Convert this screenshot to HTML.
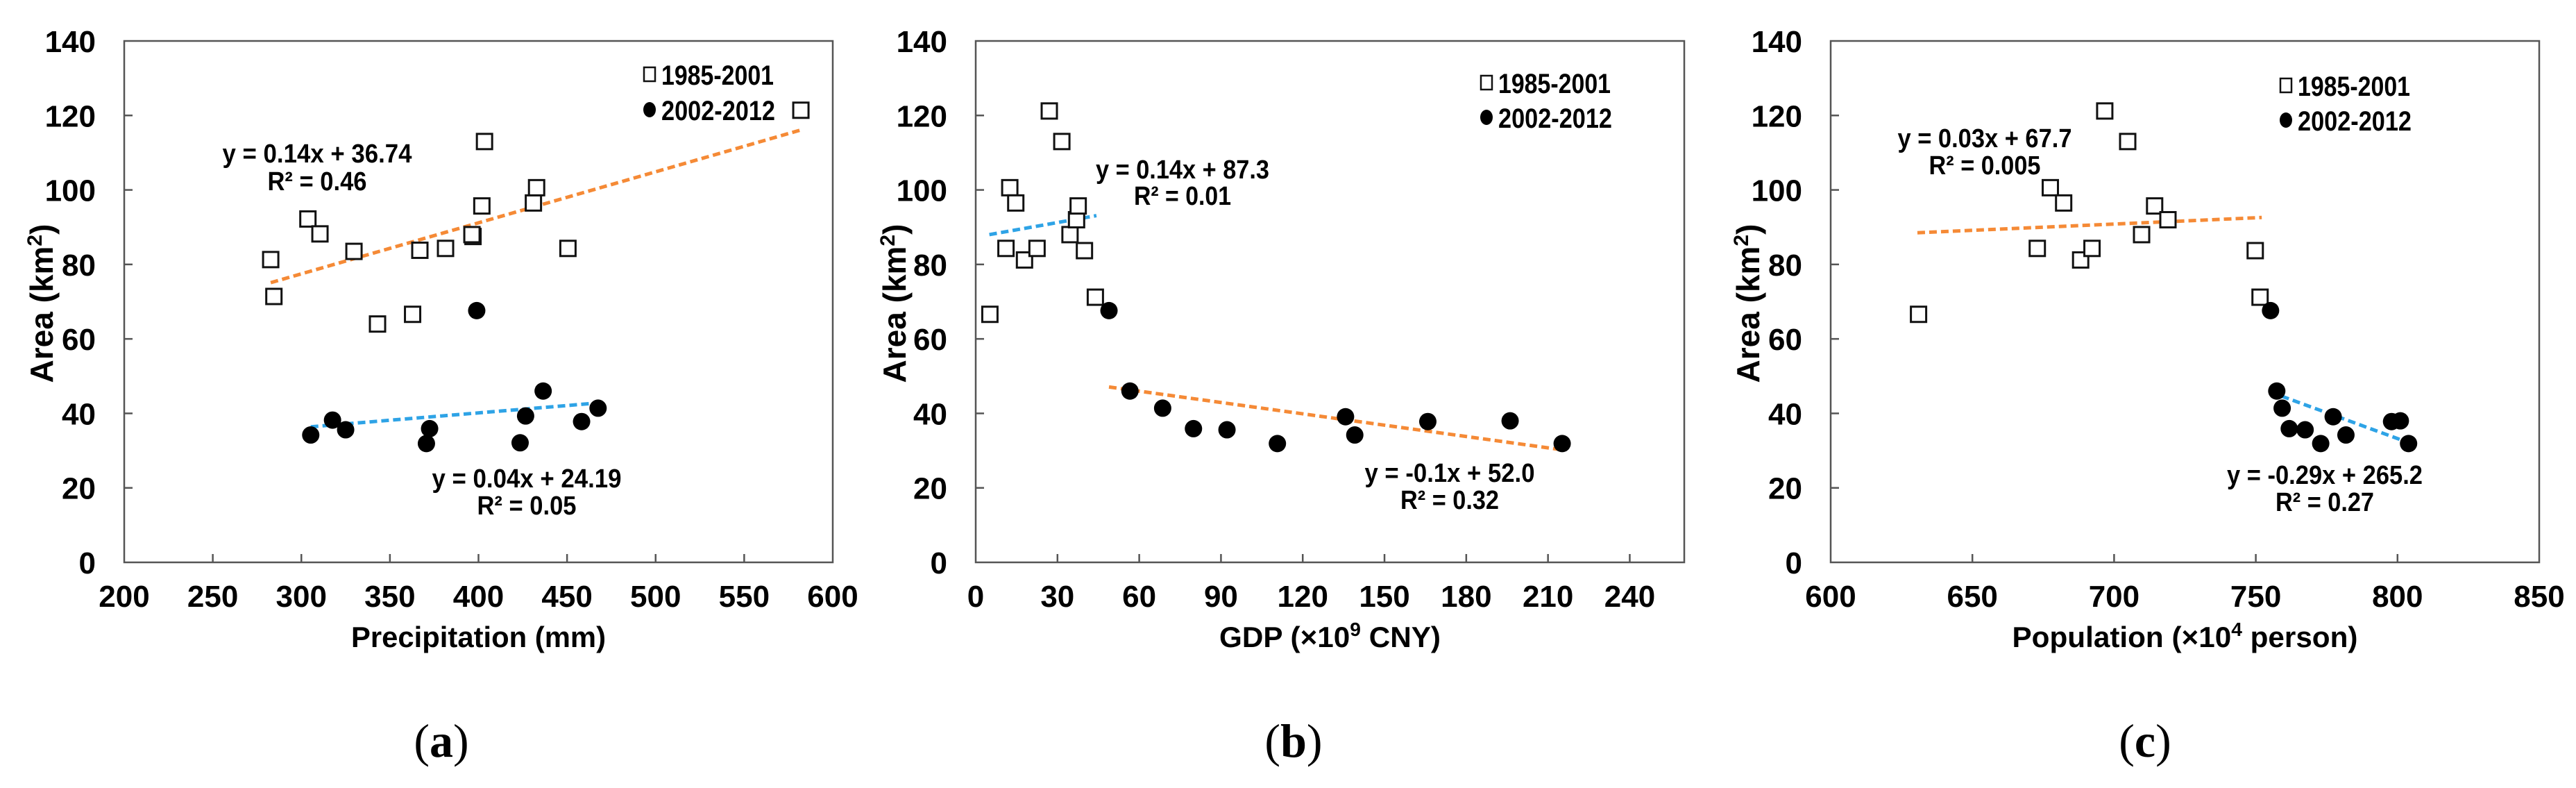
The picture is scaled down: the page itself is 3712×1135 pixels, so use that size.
<!DOCTYPE html>
<html><head><meta charset="utf-8">
<style>
html,body{margin:0;padding:0;background:#fff;}
svg{display:block;}
text{font-family:"Liberation Sans",Arial,sans-serif;}
</style></head>
<body>
<svg id="fig" width="3712" height="1135" viewBox="0 0 3712 1135" xmlns="http://www.w3.org/2000/svg"></svg>
<script>
// ---- Data ----
const yTicks = [0,20,40,60,80,100,120,140];

const aTicks = [200,250,300,350,400,450,500,550,600];
const aOldX = [282.7,284.5,303.7,310.5,329.7,343,362.8,366.9,381.4,396.9,396.3,401.9,403.4,431,432.8,450.5,582];
const aOldY = [81.3,71.4,92.2,88.2,83.5,64,66.6,83.8,84.3,87.5,88.0,95.7,113,96.5,100.6,84.3,121.4];
const aNewX = [305.3,317.6,325,370.6,372.4,399,423.5,426.6,436.5,458.2,467.5];
const aNewY = [34.2,38.2,35.6,31.9,35.9,67.6,32.1,39.3,46,37.8,41.4];
const aTrendOldX = [282.7,582]; const aTrendOldY = [75.1,116.1];
const aTrendNewX = [305.3,467.5]; const aTrendNewY = [36.4,42.8];

const bTicks = [0,30,60,90,120,150,180,210,240];
const bOldX = [5.2,11.1,12.5,14.7,17.9,22.5,27,31.6,34.6,37,37.6,39.9,43.9];
const bOldY = [66.6,84.3,100.6,96.5,81.2,84.3,121.2,113,88,92,95.7,83.7,71.2];
const bNewX = [48.9,56.6,68.6,79.9,92.2,110.7,135.7,139.1,165.9,196.1,215.2];
const bNewY = [67.6,46,41.4,35.9,35.6,31.9,39.1,34.2,37.8,38,31.9];
const bTrendOldX = [5,44.3]; const bTrendOldY = [88.0,93.1];
const bTrendNewX = [48.9,215.4]; const bTrendNewY = [47.1,30.2];

const cTicks = [600,650,700,750,800,850];
const cOldX = [631,672.9,677.5,682.2,688.2,692.2,696.7,704.8,709.7,714.3,719,749.8,751.5];
const cOldY = [66.6,84.3,100.6,96.5,81.2,84.3,121.2,113,88,95.7,92,83.7,71.2];
const cNewX = [755.2,757.4,759.3,761.8,767.4,772.9,777.3,781.8,797.9,801,803.9];
const cNewY = [67.6,46,41.4,35.9,35.6,31.9,39.1,34.2,37.8,38,31.9];
const cTrendOldX = [630.6,752.1]; const cTrendOldY = [88.5,92.6];
const cTrendNewX = [755.2,804.1]; const cTrendNewY = [45.7,32.1];

const NS = "http://www.w3.org/2000/svg";
const svg = document.getElementById('fig');
function mk(tag, attrs, parent){
  const e = document.createElementNS(NS, tag);
  for (const k in attrs) e.setAttribute(k, attrs[k]);
  (parent||svg).appendChild(e);
  return e;
}
const ORANGE = '#f58a36', BLUE = '#2ea3e6';

function panel(cfg){
  const g = mk('g', {});
  
  
  const L = cfg.left, R = cfg.left + 1021, T = 59, B = 810;
  const sx = v => L + (v - cfg.xmin) / (cfg.xmax - cfg.xmin) * (R - L);
  const sy = v => B - v / 140 * (B - T);
  const frame = mk('rect', {x:L, y:T, width:R-L, height:B-T, fill:'none', stroke:'#555', 'stroke-width':2.5}, g);
  
  
  yTicks.forEach(t => {
    const y = sy(t);
    if (t > 0 && t < 140) mk('line', {x1:L, x2:L+12, y1:y, y2:y, stroke:'#555', 'stroke-width':2.5}, g);
    const tx = mk('text', {x:L-41, y:y+16, 'text-anchor':'end', 'font-size':44, 'font-weight':'bold', fill:'#000'}, g);
    
    
    tx.textContent = t;
  });
  cfg.xticks.forEach(t => {
    const x = sx(t);
    if (x > L + 1 && x < R - 1) mk('line', {x1:x, x2:x, y1:B, y2:B-12, stroke:'#555', 'stroke-width':2.5}, g);
    const tx = mk('text', {x:x, y:874, 'text-anchor':'middle', 'font-size':44, 'font-weight':'bold', fill:'#000'}, g);
    
    
    tx.textContent = t;
  });
  // axis titles
  const xt = mk('text', {x:(L+R)/2, y:932, 'text-anchor':'middle', 'font-size':42, 'font-weight':'bold', fill:'#000', textLength:cfg.xTitleW, lengthAdjust:'spacingAndGlyphs'}, g);
  
  
  xt.innerHTML = cfg.xTitle;
  const yt = mk('text', {x:0, y:0, 'text-anchor':'middle', 'font-size':46, 'font-weight':'bold', fill:'#000', transform:`translate(${cfg.yTitleX+16},437) rotate(-90)`}, g);
  
  
  yt.innerHTML = 'Area (km<tspan dy="-16" font-size="30">2</tspan><tspan dy="16">)</tspan>';
  // trend lines
  [[cfg.tOX, cfg.tOY, cfg.oldColor, 'trendline-1985-2001'], [cfg.tNX, cfg.tNY, cfg.newColor, 'trendline-2002-2012']].forEach(([xs, ys, col, nm]) => {
    const ln = mk('line', {x1:sx(xs[0]), y1:sy(ys[0]), x2:sx(xs[1]), y2:sy(ys[1]), stroke:col, 'stroke-width':5, 'stroke-dasharray':'11 6'}, g);
    
    
  });
  // markers
  cfg.oX.forEach((v, i) => {
    const r = mk('rect', {x:sx(v)-11, y:sy(cfg.oY[i])-11, width:22, height:22, fill:'#fff', stroke:'#111', 'stroke-width':3}, g);
    
    
  });
  cfg.nX.forEach((v, i) => {
    const c = mk('circle', {cx:sx(v), cy:sy(cfg.nY[i]), r:12.5, fill:'#000'}, g);
    
    
  });
  // equations
  cfg.eqs.forEach(e => {
    const t1 = mk('text', {x:e.x, y:e.y1+13, 'text-anchor':'middle', 'font-size':38, 'font-weight':'bold', fill:'#000', textLength:e.w, lengthAdjust:'spacingAndGlyphs'}, g);
    
    
    t1.textContent = e.eq;
    const t2 = mk('text', {x:e.x, y:e.y2+13, 'text-anchor':'middle', 'font-size':38, 'font-weight':'bold', fill:'#000', textLength:e.w2, lengthAdjust:'spacingAndGlyphs'}, g);
    
    
    t2.textContent = e.r2;
  });
  // legend
  const lg = mk('g', {}, g);
  
  
  mk('rect', {x:cfg.legX-8, y:cfg.legY1-10, width:16, height:20, fill:'#fff', stroke:'#111', 'stroke-width':2.5}, lg);
  mk('ellipse', {cx:cfg.legX, cy:cfg.legY2, rx:9, ry:11, fill:'#000'}, lg);
  const l1 = mk('text', {x:cfg.legX+17, y:cfg.legY1+15, 'font-size':40, 'font-weight':'bold', fill:'#000', textLength:162, lengthAdjust:'spacingAndGlyphs'}, lg);
  
  
  l1.textContent = '1985-2001';
  const l2 = mk('text', {x:cfg.legX+17, y:cfg.legY2+15, 'font-size':40, 'font-weight':'bold', fill:'#000', textLength:164, lengthAdjust:'spacingAndGlyphs'}, lg);
  
  
  l2.textContent = '2002-2012';
  // panel letter
  const pl = mk('text', {x:cfg.letterX, y:1090, 'text-anchor':'middle', 'font-size':68, fill:'#000', style:'font-family:"Liberation Serif",serif'}, g);
  
  
  pl.innerHTML = '(<tspan font-weight="bold">' + cfg.letter + '</tspan>)';
}

panel({name:'panel-a-precipitation', left:179, xmin:200, xmax:600, xticks:aTicks,
  xTitle:'Precipitation (mm)', xTitleW:367, yTitleX:60,
  oX:aOldX, oY:aOldY, nX:aNewX, nY:aNewY,
  tOX:aTrendOldX, tOY:aTrendOldY, tNX:aTrendNewX, tNY:aTrendNewY, oldColor:ORANGE, newColor:BLUE,
  eqs:[{x:457, y1:221, y2:261, eq:'y = 0.14x + 36.74', r2:'R² = 0.46', w:273, w2:143},
       {x:759, y1:689, y2:728, eq:'y = 0.04x + 24.19', r2:'R² = 0.05', w:273, w2:143}],
  legX:936, legY1:107, legY2:158, letter:'a', letterX:636});

panel({name:'panel-b-gdp', left:1406, xmin:0, xmax:260, xticks:bTicks,
  xTitle:'GDP (×10<tspan dy="-16" font-size="28">9</tspan><tspan dy="16"> CNY)</tspan>', xTitleW:319, yTitleX:1289,
  oX:bOldX, oY:bOldY, nX:bNewX, nY:bNewY,
  tOX:bTrendOldX, tOY:bTrendOldY, tNX:bTrendNewX, tNY:bTrendNewY, oldColor:BLUE, newColor:ORANGE,
  eqs:[{x:1704, y1:244, y2:282, eq:'y = 0.14x + 87.3', r2:'R² = 0.01', w:250, w2:140},
       {x:2089, y1:681, y2:720, eq:'y = -0.1x + 52.0', r2:'R² = 0.32', w:245, w2:142}],
  legX:2142, legY1:119, legY2:169, letter:'b', letterX:1864});

panel({name:'panel-c-population', left:2638, xmin:600, xmax:850, xticks:cTicks,
  xTitle:'Population (×10<tspan dy="-16" font-size="28">4</tspan><tspan dy="16"> person)</tspan>', xTitleW:498, yTitleX:2519,
  oX:cOldX, oY:cOldY, nX:cNewX, nY:cNewY,
  tOX:cTrendOldX, tOY:cTrendOldY, tNX:cTrendNewX, tNY:cTrendNewY, oldColor:ORANGE, newColor:BLUE,
  eqs:[{x:2860, y1:199, y2:238, eq:'y = 0.03x + 67.7', r2:'R² = 0.005', w:251, w2:161},
       {x:3350, y1:684, y2:723, eq:'y = -0.29x + 265.2', r2:'R² = 0.27', w:282, w2:142}],
  legX:3294, legY1:123, legY2:173, letter:'c', letterX:3091});
</script>
</body></html>
